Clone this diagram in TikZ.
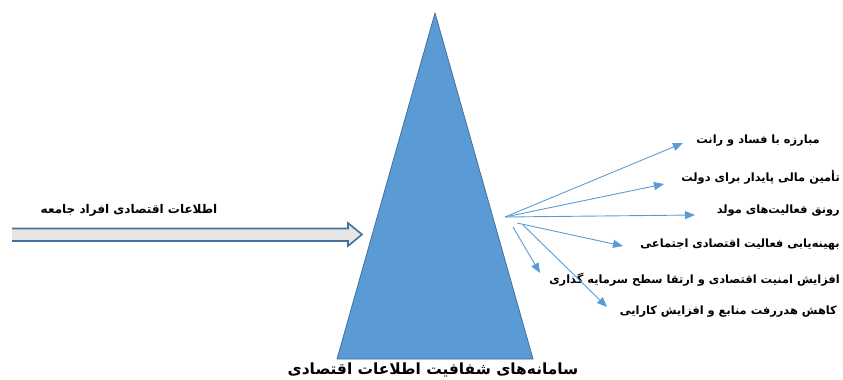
\documentclass[tikz,border=0pt]{standalone}
\usepackage{fontspec}
\usepackage{xcolor}
\usetikzlibrary{arrows.meta,positioning}
\TeXXeTstate=1
\newfontfamily\arabicfont[Script=Arabic]{DejaVu Sans}
\definecolor{tri}{HTML}{5B9BD5}
\definecolor{triedge}{HTML}{41719C}
\definecolor{shaft}{HTML}{E7E6E6}
\definecolor{link}{HTML}{5B9BD5}
\tikzset{
  pyr/.style={fill=tri, draw=triedge, line width=0.8pt, line join=round},
  feedfill/.style={fill=shaft},
  feedline/.style={draw=triedge, line width=1.6pt, line join=miter},
  outarrow/.style={draw=link, line width=0.9pt, -{Triangle[length=10pt,width=8pt]}},
  goal/.style={anchor=east, inner sep=0pt, font=\arabicfont\bfseries\fontsize{11.4}{13}\selectfont},
  lab/.style={inner sep=0pt, font=\arabicfont\bfseries\fontsize{12}{14}\selectfont},
  ttl/.style={inner sep=0pt, font=\arabicfont\bfseries\fontsize{15.4}{18}\selectfont},
}
\begin{document}
\begin{tikzpicture}[x=1pt,y=-1pt]
\useasboundingbox (0,0) rectangle (843,380);

% pyramid
\coordinate (apex) at (435,13);
\coordinate (bl) at (337,359);
\coordinate (br) at (533,359);
\draw[pyr] (apex) -- (br) -- (bl) -- cycle;
\node[ttl] (title) at (433,369.5) {\beginR سامانه‌های شفافیت اطلاعات اقتصادی\endR};

% input arrow
\fill[feedfill] (12,228.5) -- (348,228.5) -- (348,223) -- (362,234.5) -- (348,246) -- (348,241) -- (12,241) -- cycle;
\draw[feedline] (12,228.5) -- (348,228.5) -- (348,223) -- (362,234.5) -- (348,246) -- (348,241) -- (12,241);
\node[lab] (inp) at (129,210) {\beginR اطلاعات اقتصادی افراد جامعه\endR};

% outcomes
\node[goal] (g1) at (820,141) {\beginR مبارزه با فساد و رانت\endR};
\node[goal] (g2) at (840,177) {\beginR تأمین مالی پایدار برای دولت\endR};
\node[goal] (g3) at (840,211) {\beginR رونق فعالیت‌های مولد\endR};
\node[goal] (g4) at (840,245) {\beginR بهینه‌یابی فعالیت اقتصادی اجتماعی\endR};
\node[goal] (g5) at (840,280) {\beginR افزایش امنیت اقتصادی و ارتقا سطح سرمایه گذاری\endR};
\node[goal] (g6) at (837,312) {\beginR کاهش هدررفت منابع و افزایش کارایی\endR};

\coordinate (src) at (505,217);
\coordinate (s4) at (517,223);
\coordinate (s5) at (513,227);
\coordinate (s6) at (523,225);
\coordinate (t1) at (683,143);
\coordinate (t2) at (664,184);
\coordinate (t3) at (695,215);
\coordinate (t4) at (623,246);
\coordinate (t5) at (540,273);
\coordinate (t6) at (607,307);

\draw[outarrow] (src) -- (t1);
\draw[outarrow] (src) -- (t2);
\draw[outarrow] (src) -- (t3);
\draw[outarrow] (s4) -- (t4);
\draw[outarrow] (s5) -- (t5);
\draw[outarrow] (s6) -- (t6);
\end{tikzpicture}
\end{document}
